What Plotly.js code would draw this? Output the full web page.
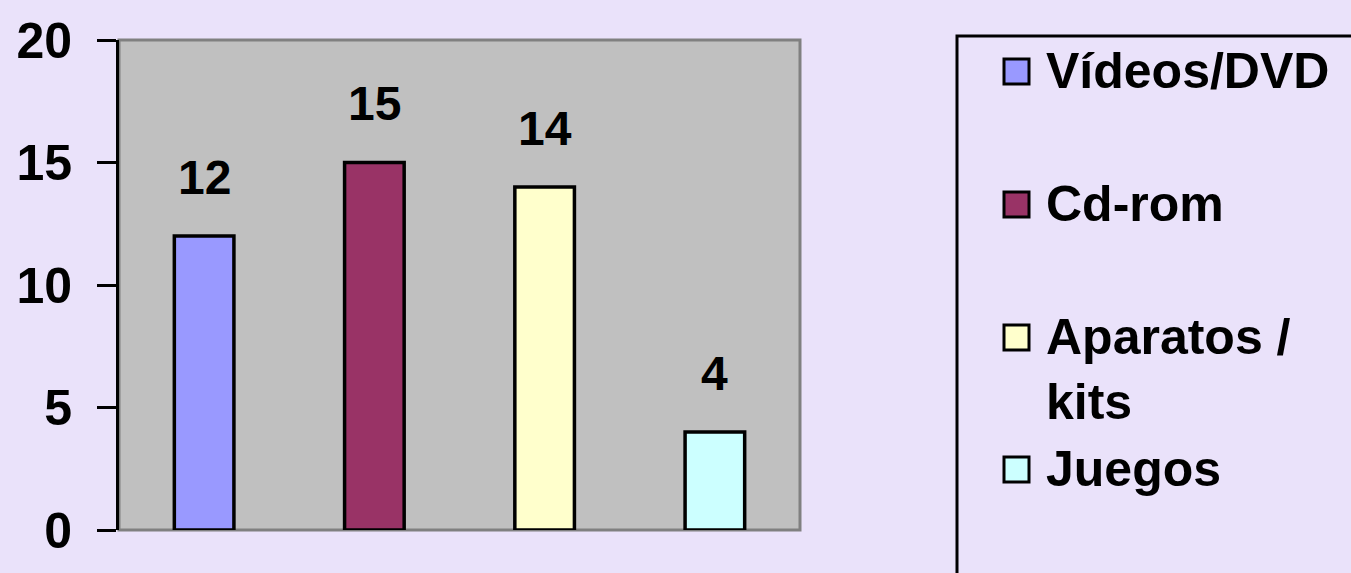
<!DOCTYPE html>
<html>
<head>
<meta charset="utf-8">
<script src="https://cdn.plot.ly/plotly-3.0.1.min.js"></script>
<style>html,body{margin:0;padding:0;background:#EAE2FA;}#chart{width:1351px;height:573px;}</style>
</head>
<body>
<div id="chart"></div>
<script>
// ---- data ----
const categories = ["Vídeos/DVD", "Cd-rom", "Aparatos / kits", "Juegos"];
const legendLabels = ["Vídeos/DVD", "Cd-rom", "Aparatos /<br>kits", "Juegos"];
const values = [12, 15, 14, 4];
const yTicks = [0, 5, 10, 15, 20];

// ---- styles ----
const colors = ["#9999FF", "#993366", "#FFFFCC", "#CCFFFF"];
const FONT = "Liberation Sans, Arial, sans-serif";
const W = 1351, H = 573;
const L = 119, R = 800, T = 40, B = 530;
const px2x = p => (p - L) / (R - L);
const py2y = p => (B - p) / (B - T);

const traces = categories.map((c, i) => ({
  type: "bar",
  x: [c],
  y: [values[i]],
  name: c,
  width: 0.35,
  marker: {color: colors[i], line: {color: "#000000", width: 3.5}},
  hoverinfo: "skip",
  showlegend: false
}));

const annotations = categories.map((c, i) => ({
  x: c, y: values[i], xref: "x", yref: "y",
  text: String(values[i]),
  showarrow: false, yanchor: "middle", yshift: 59,
  font: {family: FONT, size: 48, weight: "bold", color: "#000000"}
}));

const shapes = [
  {type: "rect", xref: "paper", yref: "paper", x0: 0, x1: 1, y0: 0, y1: 1,
   line: {color: "#808080", width: 3}, layer: "below"},
  {type: "rect", xref: "paper", yref: "paper", x0: px2x(957), x1: px2x(1420), y0: py2y(36), y1: py2y(640),
   line: {color: "#000000", width: 3}, fillcolor: "rgba(0,0,0,0)", layer: "above"}
];

const legendCenters = [72, 205, 338, 470];
categories.forEach((c, i) => {
  const cy = legendCenters[i];
  shapes.push({type: "rect", xref: "paper", yref: "paper",
    x0: px2x(1004), x1: px2x(1029), y0: py2y(cy + 12), y1: py2y(cy - 13),
    fillcolor: colors[i], line: {color: "#000000", width: 3}, layer: "above"});
  annotations.push({xref: "paper", yref: "paper", x: px2x(1044), y: py2y(cy - 31),
    xanchor: "left", yanchor: "top", align: "left", showarrow: false,
    text: legendLabels[i],
    font: {family: FONT, size: 50, weight: "bold", color: "#000000"}});
});

const layout = {
  width: W, height: H,
  margin: {l: L, r: W - R, t: T, b: H - B, pad: 0},
  paper_bgcolor: "#EAE2FA",
  plot_bgcolor: "#C0C0C0",
  barmode: "overlay",
  showlegend: false,
  xaxis: {type: "category", range: [-0.5, 3.5], showticklabels: false, ticks: "",
          showgrid: false, zeroline: false, showline: false, fixedrange: true},
  yaxis: {range: [0, 20], tickvals: yTicks, ticktext: yTicks.map(String),
          ticks: "outside", ticklen: 19, tickwidth: 3, tickcolor: "#000000",
          showline: true, linewidth: 3, linecolor: "#000000",
          showgrid: false, zeroline: false, ticklabelstandoff: 15,
          tickfont: {family: FONT, size: 50, weight: "bold", color: "#000000"},
          fixedrange: true},
  shapes: shapes,
  annotations: annotations
};

Plotly.newPlot("chart", traces, layout, {displayModeBar: false, staticPlot: true});
</script>
</body>
</html>
